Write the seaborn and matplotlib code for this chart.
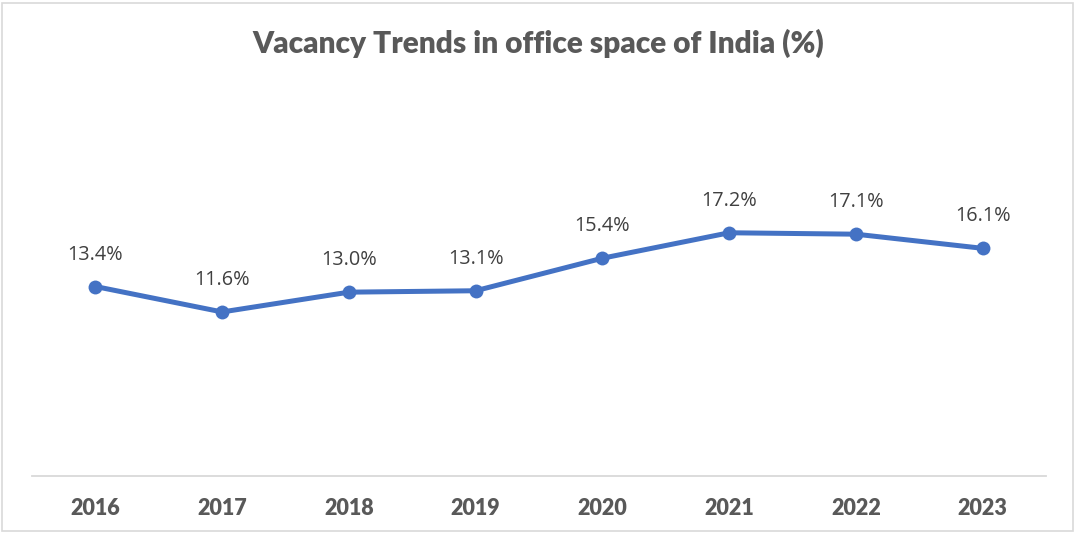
import pandas as pd
import matplotlib
matplotlib.use('Agg')
import matplotlib.pyplot as plt
import seaborn as sns
from matplotlib.patches import Rectangle

years = [2016, 2017, 2018, 2019, 2020, 2021, 2022, 2023]
vacancy = [13.4, 11.6, 13.0, 13.1, 15.4, 17.2, 17.1, 16.1]
title = 'Vacancy Trends in office space of India (%)'

data = pd.DataFrame({'year': years, 'vacancy': vacancy})

sns.set_style('white')
plt.rcParams['font.family'] = ['Lato', 'DejaVu Sans']

fig = plt.figure(figsize=(10.77, 5.33), dpi=100)
ax = fig.add_axes([32 / 1077, 1 - 476 / 533, 1014 / 1077, 280 / 533])

sns.lineplot(data=data, x='year', y='vacancy', ax=ax, color='#4472C4',
             linewidth=3.6, marker='o', markersize=10, markeredgewidth=0)

for yr, v in zip(years, vacancy):
    ax.annotate(f'{v:.1f}%', (yr, v), xytext=(0, 23), textcoords='offset points',
                ha='center', va='center', fontsize=14.3, color='#404040',
                family=['Open Sans', 'DejaVu Sans'])

ax.set_xlim(2015.5, 2023.5)
ax.set_ylim(0, 19.8)
ax.set_xticks(years)
ax.set_xticklabels([str(y) for y in years], fontsize=15.5, fontweight='heavy', color='#595959')
ax.set_yticks([])
ax.set_xlabel('')
ax.set_ylabel('')
ax.tick_params(axis='x', length=0, pad=16)
for side in ['top', 'left', 'right']:
    ax.spines[side].set_visible(False)
ax.spines['bottom'].set_color('#d9d9d9')
ax.spines['bottom'].set_linewidth(1.3)

fig.text(0.5, 1 - 43 / 533, title, ha='center', va='center', fontsize=21.5,
         fontweight='heavy', color='#595959')

fig.patches.append(Rectangle((0.002, 0.004), 0.994, 0.99, transform=fig.transFigure,
                             fill=False, edgecolor='#d9d9d9', linewidth=1.2))

fig.savefig('out.png', dpi=100)
